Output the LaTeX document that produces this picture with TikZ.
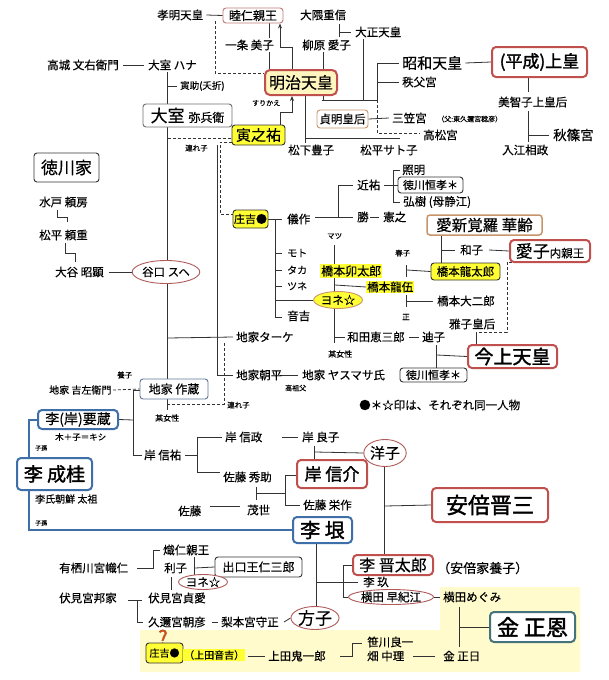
\documentclass[tikz,border=0pt]{standalone}
\usepackage{fontspec}
\setmainfont{Noto Sans CJK JP}[UprightFeatures={FakeBold=0.35}, BoldFont={Noto Sans CJK JP}, BoldFeatures={FakeBold=1.8}]
\usetikzlibrary{arrows.meta,shapes.geometric}
\newcommand\fz[1]{\fontsize{#1}{#1}\selectfont}
\definecolor{lc}{HTML}{333333}
\definecolor{redb}{HTML}{C0504D}
\definecolor{blueb}{HTML}{3E6FA8}
\definecolor{tealb}{HTML}{45727C}
\definecolor{ylw}{HTML}{FFFF33}
\definecolor{bgy}{HTML}{FFFBCC}
\definecolor{meiji}{HTML}{FFF5BF}
\definecolor{ellb}{HTML}{B05A5A}
\definecolor{grayb}{HTML}{707070}
\definecolor{brownb}{HTML}{C8956A}
\definecolor{qc}{HTML}{C8501E}
\pgfdeclarelayer{bg}\pgfdeclarelayer{lines}
\pgfsetlayers{bg,lines,main}
\begin{document}
\begin{tikzpicture}[x=1pt,y=-1pt,
  t/.style={inner sep=0pt, anchor=west, font=\fz{11.5}, text=black},
  wh/.style 2 args={minimum width=#1pt, minimum height=#2pt, inner sep=0pt, anchor=center},
  ln/.style={draw=lc, line width=0.8pt},
  dbl/.style={draw=lc, double=white, double distance=1.8pt, line width=0.6pt},
  dsh/.style={draw=lc, line width=0.8pt, dash pattern=on 3pt off 2pt},
  redbox/.style={draw=redb, line width=2pt, rounded corners=4pt, fill=white},
  bluebox/.style={draw=blueb, line width=2pt, rounded corners=4pt, fill=white},
  graybox/.style={draw=grayb, line width=0.9pt, rounded corners=3pt, fill=white},
  ybox/.style={draw=lc, line width=0.9pt, rounded corners=3pt, fill=ylw},
  hl/.style={fill=ylw, inner sep=1pt},
  ell/.style={ellipse, draw=ellb, line width=0.9pt, fill=white, inner sep=0pt, anchor=center, font=\fz{11.5}},
]
\useasboundingbox (0,0) rectangle (609,680);
\begin{pgfonlayer}{bg}
\fill[white] (0,0) rectangle (609,680);
\fill[bgy] (140,630) -- (440,630) -- (440,587) -- (580,587) -- (580,672) -- (140,672) -- cycle;
\end{pgfonlayer}

% ---------- top ----------
\node[t] (komei) at (157,15) {孝明天皇};
\node[graybox, draw=ellb!80, wh={60}{15}, font=\fz{12}] (mutsu) at (253,15.5) {睦仁親王};
\node[t] (ichijo) at (225,45) {一条 美子};
\node[wh={72}{25}, draw=redb, line width=2pt, rounded corners=5pt, fill=meiji, font=\fz{16}] (meiji) at (301,82.5) {明治天皇};
\node[t] (okuma) at (300,15) {大隈重信};
\node[t] (yanag) at (302,45) {柳原 愛子};
\node[t] (taisho) at (355,32) {大正天皇};
\node[graybox, draw=brownb, wh={51}{18}, font=\fz{11.5}] (teimei) at (342.5,119) {貞明皇后};
\node[t,font=\fz{15}] (showa) at (402,63) {昭和天皇};
\node[t] (chichibu) at (402,82) {秩父宮};
\node[t] (mikasa) at (392,118) {三笠宮};
\node[t,font=\fz{7}] (mikasaf) at (437,119) {（父:東久邇宮稔彦）};
\node[t] (takamatsu) at (423,135) {高松宮};
\node[redbox, wh={95}{30}, font=\fz{17}\bfseries] (heisei) at (539.5,62) {(平成)上皇};
\node[t] (michiko) at (498,102) {美智子上皇后};
\node[t,font=\fz{13.5}] (akishino) at (553,135) {秋篠宮};
\node[t] (irie) at (502,150) {入江相政};
\node[t] (matsushita) at (288,150) {松下豊子};
\node[t] (sato) at (360,150) {松平サト子};

% ---------- left column ----------
\node[t] (takagi) at (47,65) {高城 文右衛門};
\node[t] (hana) at (148,65) {大室 ハナ};
\node[t,font=\fz{9.5}] (torasuke) at (180,86) {寅助(夭折)};
\node[graybox, wh={89}{23}] (omuro) at (187.5,115.5) {\fz{17}大室 \fz{12}弥兵衛};
\node[ybox, wh={53}{20}, font=\fz{15}] (tora) at (258.5,135) {寅之祐};
\node[t,font=\fz{7}] (surikae) at (252,103) {すりかえ};
\node[t,font=\fz{7.5}] (tsure1) at (185,148) {連れ子};
\node[graybox, draw=lc, wh={65}{29}, font=\fz{17}] (tokugawa) at (66.5,167.5) {徳川家};
\node[t] (mito) at (39,202) {水戸 頼房};
\node[t] (matsudaira) at (39,235) {松平 頼重};
\node[t] (otani) at (55,272) {大谷 昭顕};
\node[ell, minimum width=62pt, minimum height=23pt] (taniguchi) at (166,272) {谷口 スヘ};

% ---------- middle ----------
\node[ybox, wh={35}{18}, font=\fz{11}] (shokichi) at (250.5,219) {庄吉●};
\node[t] (gisaku) at (287,219) {儀作};
\node[t] (chikasuke) at (357,185) {近祐};
\node[t] (masaru) at (357,217) {勝};
\node[t] (noriyuki) at (383,217) {憲之};
\node[t] (teruaki) at (402,170) {照明};
\node[graybox, draw=lc, wh={65}{16}, font=\fz{11}] (tsunenari1) at (430.5,185) {徳川恒孝＊};
\node[t] (hiroki) at (403,202) {弘樹 (母静江)};
\node[t,font=\fz{10}] (moto) at (287,253) {モト};
\node[t,font=\fz{10}] (taka) at (287,270) {タカ};
\node[t,font=\fz{10}] (tsune) at (287,286) {ツネ};
\node[t] (otokichi) at (287,316) {音吉};
\node[t,font=\fz{7.5}] (matsu) at (327,236) {マツ};
\node[t, hl, font=\fz{12}] (utaro) at (320,271) {橋本卯太郎};
\node[t, hl, font=\fz{11.5}] (ryugo) at (366,287) {橋本龍伍};
\node[ell, fill=ylw, draw=brownb, minimum width=47pt, minimum height=17pt] (yone1) at (338,300) {ヨネ☆};
\node[t] (wada) at (347,337) {和田恵三郎};
\node[t] (michiko2) at (422,337) {迪子};
\node[t,font=\fz{8}] (bojo1) at (328,354) {某女性};
\node[t,font=\fz{7.5}] (haruko) at (395,253) {春子};
\node[t,font=\fz{7.5}] (tadashi) at (402,317) {正};
\node[ybox, wh={69}{17}, font=\fz{11.5}] (ryutaro) at (465.5,271.5) {橋本龍太郎};
\node[t] (daijiro) at (437,301) {橋本大二郎};
\node[graybox, draw=brownb, line width=1.5pt, wh={115}{20}, font=\fz{15.5}] (aishin) at (484.5,225) {愛新覚羅 華齢};
\node[t] (kazuko) at (460,250) {和子};
\node[redbox, wh={80}{22}] (aiko) at (550,251) {\fz{17}愛子\fz{11.5}内親王};
\node[t] (masako) at (449,324) {雅子皇后};
\node[redbox, wh={89}{23}, font=\fz{19}\bfseries] (kinjo) at (512.5,356.5) {今上天皇};
\node[graybox, draw=lc, wh={67}{14}, font=\fz{11}] (tsunenari2) at (433.5,375) {徳川恒孝＊};
\node[t] (note) at (359,405) {●＊☆印は、それぞれ同一人物};

% ---------- middle left ----------
\node[t] (take) at (236,337) {地家ターケ};
\node[t] (asahei) at (236,375) {地家朝平};
\node[t] (yasumasa) at (302,375) {地家 ヤスマサ氏};
\node[t,font=\fz{7}] (koso) at (285,388) {高祖父};
\node[t,font=\fz{7.5}] (tsure2) at (227,405) {連れ子};
\node[t,font=\fz{7.5}] (yoshi) at (117,375) {養子};
\node[t,font=\fz{10}] (kichizaemon) at (49,390) {地家 吉左衛門};
\node[graybox, draw=blueb!50!gray, wh={68}{20}, font=\fz{12}] (sakuzo) at (174,389) {地家 作蔵};
\node[t,font=\fz{8}] (bojo2) at (155,418) {某女性};
\node[t] (nobusuke0) at (144,455) {岸 信祐};
\node[t] (nobumasa) at (225,437) {岸 信政};
\node[t] (yoshiko) at (302,437) {岸 良子};
\node[t] (hidesuke) at (223,477) {佐藤 秀助};
\node[ell, minimum width=40pt, minimum height=27pt, font=\fz{15}] (yoko) at (385,453) {洋子};
\node[redbox, wh={70}{28}, font=\fz{17}\bfseries] (kishi) at (332,474) {岸 信介};
\node[t] (eisaku) at (303,505) {佐藤 栄作};
\node[t] (sato2) at (178,511) {佐藤};
\node[t] (moyo) at (247,510) {茂世};
\node[redbox, wh={116}{34}, font=\fz{22}\bfseries] (abe) at (490,505) {安倍晋三};

% ---------- left ----------
\node[bluebox, wh={80}{19}, font=\fz{14}] (yozo) at (78,419.5) {李(岸)要蔵};
\node[t,font=\fz{8.5}] (kishi2) at (55,437) {木＋子＝キシ};
\node[t,font=\fz{6}] (shison1) at (35,448) {子孫};
\node[t,font=\fz{6}] (shison2) at (35,523) {子孫};
\node[bluebox, wh={75}{32}, font=\fz{19}\bfseries] (seikei) at (54.5,474) {李 成桂};
\node[t,font=\fz{10}] (taiso) at (35,499) {李氏朝鮮 太祖};

% ---------- bottom ----------
\node[t] (taruhito) at (163,550) {熾仁親王};
\node[t] (takahito) at (59,568) {有栖川宮幟仁};
\node[t] (toshiko) at (164,568) {利子};
\node[graybox, draw=lc, wh={87}{20}, font=\fz{12}] (deguchi) at (258.5,567) {出口王仁三郎};
\node[ell, minimum width=47pt, minimum height=15pt] (yone2) at (203,582) {ヨネ☆};
\node[t] (kuniie) at (59,598) {伏見宮邦家};
\node[t] (sadanaru) at (148,598) {伏見宮貞愛};
\node[t] (asahiko) at (148,622) {久邇宮朝彦};
\node[t] (morimasa) at (221,622) {梨本宮守正};
\node[ell, minimum width=43pt, minimum height=23pt, font=\fz{17}] (masako2) at (315,618) {方子};
\node[bluebox, wh={59}{26}, font=\fz{20}\bfseries] (gin) at (322.5,530) {李 垠};
\node[redbox, wh={80}{20}, font=\fz{16}] (shintaro) at (393,565) {李 晋太郎};
\node[t,font=\fz{13}] (yoshi2) at (437,568) {（安倍家養子）};
\node[t] (kyu) at (363,582) {李 玖};
\node[ell, minimum width=75pt, minimum height=15pt] (sakie) at (391,597) {横田 早紀江};
\node[t] (megumi) at (443,597) {横田めぐみ};
\node[font=\fz{20}\bfseries, text=qc, inner sep=0pt] (q) at (163,637.5) {?};
\node[ybox, wh={37}{20}] (shokichi2) at (164.5,653) {庄吉●};
\node[t, hl, font=\fz{10}] (ueda) at (183,655) {（上田音吉）};
\node[t] (kiichiro) at (268,656) {上田鬼一郎};
\node[t] (sasakawa) at (367,642) {笹川良一};
\node[t] (hata) at (367,656) {畑 中理};
\node[t] (jongil) at (443,656) {金 正日};
\node[draw=tealb, line width=2pt, rounded corners=4pt, fill=white, wh={85}{30}, font=\fz{22}\bfseries] (jongun) at (532.5,627) {金 正恩};

\begin{pgfonlayer}{lines}
% top
\draw[ln] ([xshift=3pt]komei.east) -- (mutsu.west);
\draw[dsh] (215,21) -- (215,73) -- (meiji.west |- 0,73);
\draw[dbl] (268,23) -- (268,38);
\draw[dbl] (268,52) -- (268,70);
\draw[ln,-{Stealth[length=5pt,width=4pt]}] (292,70) -- (292,47) -- (280,47) -- (mutsu.south -| 280,0);
\draw[dbl] (338,24) -- (338,37);
\draw[ln] (340,32) -- (351,32);
\draw[dbl] (362,39) -- (362,100);
\draw[dbl] (322,52) -- (322,100);
\draw[ln] (322,100) -- (377,100);
\draw[ln] (377,63) -- (377,100);
\draw[ln] (377,63) -- (399,63);
\draw[ln] (377,82) -- (399,82);
\draw[ln] (teimei.east) -- (389,118);
\draw[dsh] (377,100) -- (377,133) -- (420,133);
\draw[dbl] (304,96) -- (304,143);
\draw[ln] (306,138) -- (400,138);
\draw[ln] ([xshift=3pt]showa.east) -- (heisei.west);
\draw[dbl] (527,78) -- (527,92);
\draw[dbl] (527,111) -- (527,142);
\draw[ln] (529,135) -- (549,135);
% left
\draw[ln] ([xshift=4pt]takagi.east) -- ([xshift=-4pt]hana.west);
\draw[dbl] (166,72) -- (166,410);
\draw[ln] (168,86) -- (177,86);
\draw[dsh] (168,138) -- (tora.west |- 0,138);
\draw[ln,-{Stealth[length=5pt,width=4pt]}] (tora.north -| 280,0) -- (280,112) -- (292,112) -- (meiji.south -| 292,0);
\draw[ln] (57,210) -- (57,217) -- (67,217) -- (67,222);
\draw[ln] (65,243) -- (65,253) -- (75,253) -- (75,262);
\draw[ln] ([xshift=5pt]otani.east) -- (taniguchi.west);
% middle
\draw[dsh] (232,142) -- (220,142) -- (220,214) -- (shokichi.west |- 0,214);
\draw[ln] (217,145) -- (217,375) -- ([xshift=-3pt]asahei.west);
\draw[ln] (168,338) -- ([xshift=-3pt]take.west);
\draw[dsh] (224,343) -- (224,404) -- (168,404);
\draw[ln] (shokichi.east) -- (282,219);
\draw[ln] (275,219) -- (275,317) -- (282,317);
\draw[ln] (275,253) -- (282,253);
\draw[ln] (275,270) -- (282,270);
\draw[ln] (275,286) -- (282,286);
\draw[ln] (275,300) -- (yone1.west);
\draw[ln] (315,217) -- (353,217);
\draw[ln] (338,217) -- (338,185) -- (353,185);
\draw[ln] (370,217) -- (379,217);
\draw[ln] (384,185) -- (tsunenari1.west);
\draw[ln] (400,170) -- (393,170) -- (393,202) -- (400,202);
\draw[dbl] (333,245) -- (333,343);
\draw[ln] (335,285) -- (ryugo.west);
\draw[ln] (335,337) -- (345,337);
\draw[ln] (409,337) -- (419,337);
\draw[dbl] (405,265) -- (405,277);
\draw[ln] (407,270) -- (ryutaro.west);
\draw[dbl] (405,295) -- (405,307);
\draw[ln] (407,301) -- (433,301);
\draw[dbl] (440,235) -- (440,263);
\draw[ln] (442,250) -- (455,250);
\draw[ln] (489,250) -- (aiko.west);
\draw[dsh] (512,262) -- (507,262) -- (507,332) -- (478,332);
\draw[dbl] (475,332) -- (475,345);
\draw[dbl] (435,345) -- (435,368);
\draw[ln] (437,355) -- (kinjo.west);
% middle left
\draw[ln] (280,375) -- (298,375);
\draw[dsh] (113,390) -- (sakuzo.west);
\draw[ln] (140,390) -- (133,390) -- (133,455) -- (142,455);
\draw[ln] (133,420) -- (yozo.east);
\draw[ln] (185,455) -- (197,455);
\draw[ln] (222,437) -- (197,437) -- (197,472) -- (220,472);
\draw[ln] (282,437) -- (298,437);
\draw[dbl] (313,446) -- (313,459);
\draw[ln] (315,452) -- (yoko.west);
\draw[dbl] (255,487) -- (255,500);
\draw[ln] (257,493) -- (285,493);
\draw[ln] (kishi.west |- 0,475) -- (285,475) -- (285,505) -- (300,505);
\draw[ln] (210,506) -- (240,506);
\draw[dbl] (383,467) -- (383,555);
\draw[ln] (385,506) -- (abe.west);
\draw[draw=blueb, line width=2pt] (yozo.west) -- (29,419.5) -- (29,530) -- (gin.west);
% bottom
\draw[ln] (137,568) -- (153,568) -- (153,550) -- (160,550);
\draw[dbl] (193,557) -- (193,577);
\draw[ln] (195,568) -- (deguchi.west);
\draw[dbl] (170,577) -- (170,590);
\draw[ln] (128,600) -- (142,600);
\draw[ln] (137,600) -- (137,622) -- (143,622);
\draw[ln] (212,622) -- (218,622);
\draw[ln] (284,622) -- (masako2.west);
\draw[dbl] (315,543) -- (315,607);
\draw[ln] (317,582) -- (358,582);
\draw[ln] (shintaro.west) -- (343,565) -- (343,597) -- (sakie.west);
\draw[ln] (sakie.east) -- (440,597);
\draw[ln] (248,656) -- (265,656);
\draw[ln] (340,656) -- (352,656) -- (352,643) -- (362,643);
\draw[ln] (413,656) -- (435,656);
\draw[dbl, double=bgy] (458,607) -- (458,647);
\draw[ln] (460,627) -- (jongun.west);
\end{pgfonlayer}
\end{tikzpicture}
\end{document}
